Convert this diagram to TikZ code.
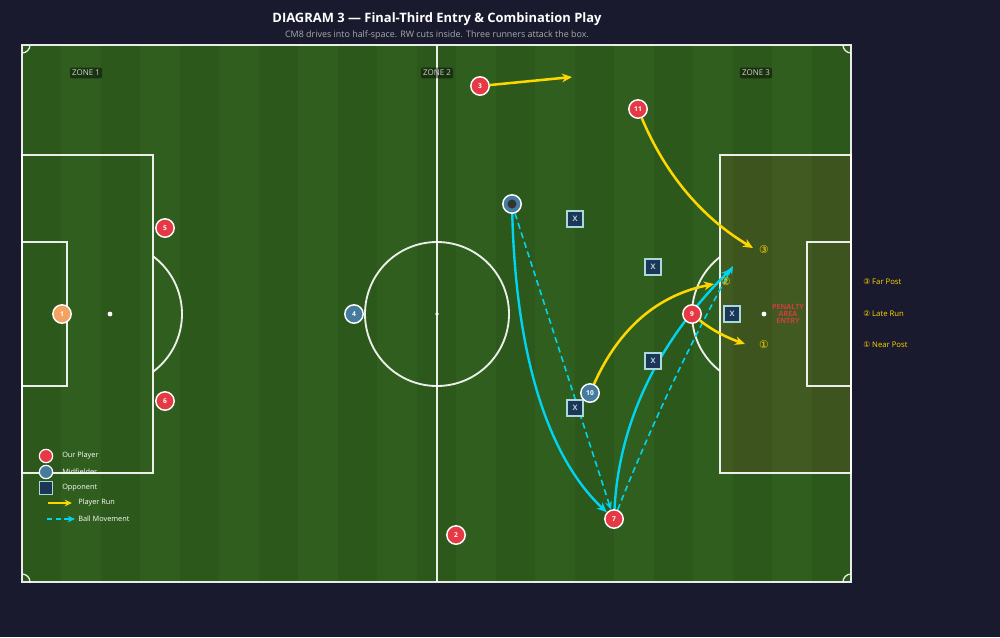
\documentclass[tikz,border=0pt]{standalone}
\usepackage{fontspec}
\setmainfont{Open Sans}
\newfontfamily\djv{DejaVu Sans}
\usetikzlibrary{arrows.meta}
\definecolor{bg}{HTML}{1A1A2E}
\definecolor{pitchA}{HTML}{2C581B}
\definecolor{pitchB}{HTML}{2F5E1E}
\definecolor{ourred}{HTML}{E63946}
\definecolor{midblue}{HTML}{457B9D}
\definecolor{gkorange}{HTML}{F4A261}
\definecolor{oppfill}{HTML}{1D3557}
\definecolor{oppedge}{HTML}{A8DADC}
\definecolor{runyellow}{HTML}{FFD700}
\definecolor{ballcyan}{HTML}{00D4F0}
\definecolor{subgray}{HTML}{AAAAAA}
\definecolor{zonetxt}{HTML}{D0D0D0}
\newcommand\myfs[1]{\fontsize{#1}{#1}\selectfont}
\pgfdeclarelayer{pitchlayer}
\pgfdeclarelayer{arrowlayer}
\pgfsetlayers{pitchlayer,arrowlayer,main}
\tikzset{
  pline/.style={draw=white, draw opacity=0.9, line width=1.4pt},
  player/.style={circle, draw=white, line width=1.1pt, minimum size=13.8pt, inner sep=0pt, text=white, font=\myfs{5pt}\bfseries},
  our/.style={player, fill=ourred},
  mid/.style={player, fill=midblue},
  gk/.style={player, fill=gkorange},
  opp/.style={rectangle, draw=oppedge, fill=oppfill, line width=1.1pt, minimum size=12pt, inner sep=0pt, text=oppedge, font=\myfs{5.6pt}\bfseries},
  run/.style={draw=runyellow, line width=1.9pt, -{Stealth[length=7.5pt,width=6.5pt]}},
  ballsolid/.style={draw=ballcyan, line width=1.8pt, -{Stealth[length=7.5pt,width=6.5pt]}},
  balldash/.style={draw=ballcyan, line width=1.2pt, dash pattern=on 4.5pt off 3pt, -{Stealth[length=6pt,width=5pt]}},
  zone/.style={fill=black, fill opacity=0.45, text opacity=1, text=zonetxt, rounded corners=1.5pt, inner xsep=1.6pt, inner ysep=1.8pt, font=\myfs{6pt}},
  circnum/.style={text=runyellow, font=\djv\myfs{8pt}, inner sep=0pt},
  sidelab/.style={text=runyellow, anchor=west, font=\myfs{5.8pt}, inner sep=0pt},
  legtxt/.style={text=white, anchor=west, font=\myfs{5.5pt}, inner sep=0pt},
}
\begin{document}
\begin{tikzpicture}[x=0.75pt,y=-0.75pt]
\begin{pgfonlayer}{pitchlayer}
\useasboundingbox (0,0) rectangle (1000,637);
\fill[bg] (0,0) rectangle (1000,637);
% pitch stripes
\fill[pitchA] (22,45) rectangle (851,582);
\foreach \i in {1,3,...,19} {
  \fill[pitchB] ({22+\i*39.476},45) rectangle ({22+(\i+1)*39.476},582);
}
% right penalty area shade
\fill[ourred, fill opacity=0.10] (720,155) rectangle (851,473);
% pitch lines
\draw[pline] (22,45) rectangle (851,582);
\draw[pline] (437,45) -- (437,582);
\draw[pline] (437,314) circle[radius=54pt];
\fill[white] (437,314) circle[radius=1.4pt];
\draw[pline] (22,155) rectangle (153,473);
\draw[pline] (22,242) rectangle (67,386);
\fill[white] (110,314) circle[radius=1.8pt];
\draw[pline] (851,155) rectangle (720,473);
\draw[pline] (851,242) rectangle (807,386);
\fill[white] (764,314) circle[radius=1.8pt];
\begin{scope}
  \clip (153,45) rectangle (437,582);
  \draw[pline] (110,314) circle[radius=54pt];
\end{scope}
\begin{scope}
  \clip (437,45) rectangle (720,582);
  \draw[pline] (764,314) circle[radius=54pt];
\end{scope}
\begin{scope}
  \clip (22,45) rectangle (851,582);
  \draw[pline, line width=1pt] (22,45) circle[radius=6pt];
  \draw[pline, line width=1pt] (851,45) circle[radius=6pt];
  \draw[pline, line width=1pt] (22,582) circle[radius=6pt];
  \draw[pline, line width=1pt] (851,582) circle[radius=6pt];
\end{scope}
\end{pgfonlayer}
% title
\node[text=white, font=\myfs{9.7pt}\bfseries, inner sep=0pt] (title) at (437,19) {DIAGRAM 3 — Final-Third Entry \& Combination Play};
\node[text=subgray, font=\myfs{6.7pt}, inner sep=0pt] (subtitle) at (437,35) {CM8 drives into half-space. RW cuts inside. Three runners attack the box.};
% zone labels
\node[zone] (z1) at (86,73) {ZONE 1};
\node[zone] (z2) at (437,73) {ZONE 2};
\node[zone] (z3) at (756,73) {ZONE 3};
% opponents
\node[opp] (o1) at (575,219) {X};
\node[opp] (o2) at (653,267) {X};
\node[opp] (o3) at (653,361) {X};
\node[opp] (o4) at (575,408) {X};
\node[opp] (o5) at (732,314) {X};
% players
\node[gk] (p1) at (62,314) {1};
\node[our] (p5) at (165,228) {5};
\node[our] (p6) at (165,401) {6};
\node[mid] (p4) at (354,314) {4};
\node[our] (p3) at (480,86) {3};
\node[our] (p11) at (638,109) {11};
\node[our] (p2) at (456,535) {2};
\node[our] (p7) at (614,519) {7};
\node[our] (p9) at (692,314) {9};
\node[mid] (p10) at (590,393) {10};
\node[mid] (p8) at (512,204) {};
\fill[black!80] (p8.center) circle[radius=3.4pt];
% targets
\coordinate (t3) at (572,77);
\coordinate (t11) at (753,248);
\coordinate (t10) at (714,284);
\coordinate (t9) at (745,344);
\coordinate (tc) at (731,269);
\coordinate (td) at (733,266);
% circled target labels
\node[circnum] (c3) at (764,250) {③};
\node[circnum] (c2) at (726,282) {②};
\node[circnum] (c1) at (764,345) {①};
\node[text=ourred, text opacity=0.85, font=\myfs{5.4pt}\bfseries, align=center, inner sep=0pt] (pae) at (788,314) {PENALTY\\[-0.4pt]AREA\\[-0.4pt]ENTRY};
\begin{pgfonlayer}{arrowlayer}
% ball movement
\draw[ballsolid] (p8) .. controls (516,357) and (548,457) .. (p7);
\draw[balldash] (p8) -- (p7);
\draw[ballsolid] (p7) .. controls (619,423) and (657,343) .. (tc);
\draw[balldash] (p7) .. controls (651,426) and (689,345) .. (td);
% player runs
\draw[run] (p3) -- (t3);
\draw[run] (p11) .. controls (666,176) and (704,219) .. (t11);
\draw[run] (p10) .. controls (619,328) and (658,295) .. (t10);
\draw[run] (p9) .. controls (713,331) and (728,338) .. (t9);
\end{pgfonlayer}
% side labels
\node[sidelab] (s3) at (863,282) {{\djv ③} Far Post};
\node[sidelab] (s2) at (863,314) {{\djv ②} Late Run};
\node[sidelab] (s1) at (863,345) {{\djv ①} Near Post};
% legend
\node[circle, fill=ourred, draw=white, line width=0.9pt, minimum size=10pt, inner sep=0pt] (l1) at (46,456) {};
\node[legtxt] (lt1) at (62,456) {Our Player};
\node[circle, fill=midblue, draw=white, line width=0.9pt, minimum size=10pt, inner sep=0pt] (l2) at (46,472) {};
\node[legtxt] (lt2) at (62,472) {Midfielder};
\node[rectangle, fill=oppfill, draw=oppedge, line width=0.9pt, minimum size=9.5pt, inner sep=0pt] (l3) at (46,488) {};
\node[legtxt] (lt3) at (62,488) {Opponent};
\coordinate (la1) at (48,503);
\coordinate (lb1) at (72,503);
\draw[draw=runyellow, line width=1.5pt, -{Stealth[length=5.5pt,width=5pt]}] (la1) -- (lb1);
\node[legtxt] (lt4) at (78,503) {Player Run};
\coordinate (la2) at (47,519);
\coordinate (lb2) at (75,519);
\draw[draw=ballcyan, line width=1.5pt, dash pattern=on 4pt off 2.5pt, -{Stealth[length=5.5pt,width=5pt]}] (la2) -- (lb2);
\node[legtxt] (lt5) at (78,519) {Ball Movement};
\end{tikzpicture}
\end{document}
